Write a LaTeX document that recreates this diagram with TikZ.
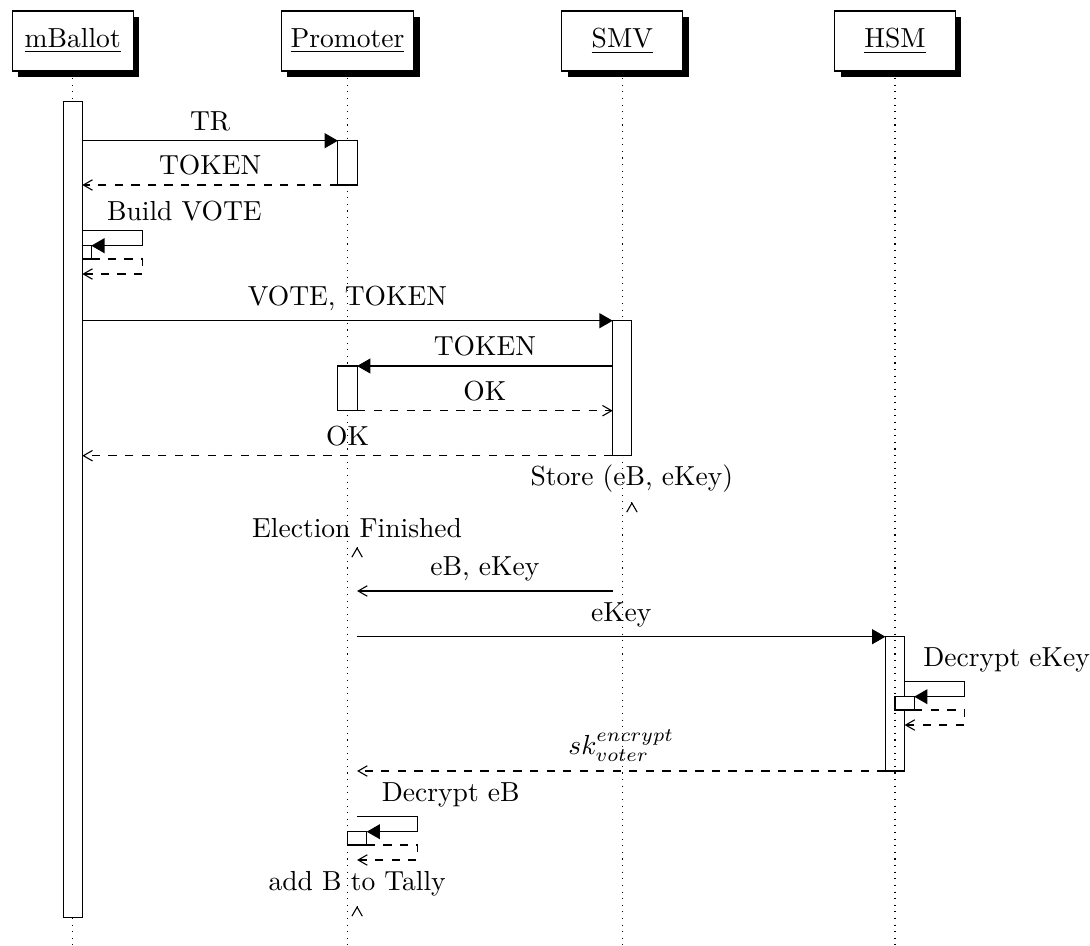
\documentclass[tikz,border=0pt]{standalone}
\usepackage{tikz}
\usetikzlibrary{arrows.meta,shadows}
\tikzstyle{inst}	=[rectangle,draw=black,fill=white,minimum width=1.54cm,minimum height=0.765cm,drop shadow={opacity=1,fill=black}]
\tikzstyle{act}		=[draw=black,fill=white]
\tikzstyle{lifeline}	=[draw,dotted,black]
\tikzstyle{callmsg}	=[draw,-{Triangle[length=4.8pt,width=5.4pt]}]
\tikzstyle{retmsg}	=[draw,dashed,-{Straight Barb[length=3.3pt,width=3.8pt]}]
\tikzstyle{plainmsg}	=[draw,-{Straight Barb[length=3.3pt,width=3.8pt]}]
\tikzstyle{lbl}		=[above]
\begin{document}
\begin{tikzpicture}[x=0.012755cm,y=-0.012755cm]
		\useasboundingbox (0,0) rectangle (1090,945);
		
		%%%% Instances and lifelines
		\foreach \pos/\name/\txt in {72.7/mb/mBallot, 347.5/pr/Promoter, 622.3/smv/SMV, 895/hsm/HSM}{
		\node[inst] (\name) at (\pos,41) {\underline{\txt}};
		\coordinate (\name-end) at (\pos,945);
		\path[lifeline] (\name) -- (\name-end);
		}
		
		%%%% Activations
		\foreach \xa/\ya/\xb/\yb in {63.1/101.7/82.3/917.3, 337.9/140.7/357.1/185, 612.7/320.7/631.9/455.7, 337.9/366/357.1/410.7}
		\draw[act] (\xa,\ya) rectangle (\xb,\yb);
		\draw[act,fill=none] (885.4,636.7) rectangle (904.6,771);
		
		%%%% Message ends
		\foreach \name/\px/\py in {tr1/82.3/140.7, tr2/337.9/140.7, tk1/337.9/185, tk2/82.3/185, vt1/82.3/320.7, vt2/612.7/320.7, tk3/612.7/366, tk4/357.1/366}
		\coordinate (\name) at (\px,\py);
		\foreach \name/\px/\py in {ok1/357.1/410.7, ok2/612.7/410.7, ok3/612.7/455.7, ok4/82.3/455.7, eb1/612.7/591, eb2/357.1/591, ek1/357.1/636.7, ek2/885.4/636.7, sk1/885.4/771, sk2/357.1/771}
		\coordinate (\name) at (\px,\py);
		\foreach \name/\px/\py in {st1/631.9/502.4, st2/631.9/502, ef1/357.1/547.4, ef2/357.1/547, ab1/357.1/906.4, ab2/357.1/906}
		\coordinate (\name) at (\px,\py);
		
		%%%% Self calls
		\foreach \n/\xs/\ys/\xa/\xb/\p/\txt in {bv/82.3/230.7/82.3/91.3/0.25/Build VOTE, dk/904.6/681.7/895/914.2/0.15/Decrypt eKey, de/357.1/816.7/347.5/366.7/0.25/Decrypt eB}{
		\draw[act] (\xa,\ys+15) rectangle (\xb,\ys+28.3);
		\coordinate (\n1) at (\xs,\ys);
		\coordinate (\n2) at (\xs+60,\ys);
		\coordinate (\n3) at (\xs+60,\ys+15);
		\coordinate (\n4) at (\xb,\ys+15);
		\coordinate (\n5) at (\xb,\ys+28.3);
		\coordinate (\n6) at (\xs+60,\ys+28.3);
		\coordinate (\n7) at (\xs+60,\ys+43.3);
		\coordinate (\n8) at (\xs,\ys+43.3);
		\path[callmsg] (\n1) -- node[pos=\p,above right] {\txt} (\n2) -- (\n3) -- (\n4);
		\path[retmsg] (\n5) -- (\n6) -- (\n7) -- (\n8);
		}
		
		%%%% Calls
		\foreach \source/\dest/\txt in {tr1/tr2/TR, vt1/vt2/{VOTE, TOKEN}, tk3/tk4/TOKEN, ek1/ek2/eKey}
		\path[callmsg] (\source) -- node[lbl] {\txt} (\dest);
		
		%%%% Returns
		\foreach \source/\dest/\txt in {tk1/tk2/TOKEN, ok1/ok2/OK, ok3/ok4/OK, sk1/sk2/{$sk^{encrypt}_{voter}$}}
		\path[retmsg] (\source) -- node[lbl] {\txt} (\dest);
		
		%%%% Plain messages
		\foreach \source/\dest/\txt in {eb1/eb2/{eB, eKey}, st1/st2/{Store (eB, eKey)}, ef1/ef2/Election Finished, ab1/ab2/add B to Tally}
		\path[plainmsg] (\source) -- node[lbl] {\txt} (\dest);
\end{tikzpicture}
\end{document}
